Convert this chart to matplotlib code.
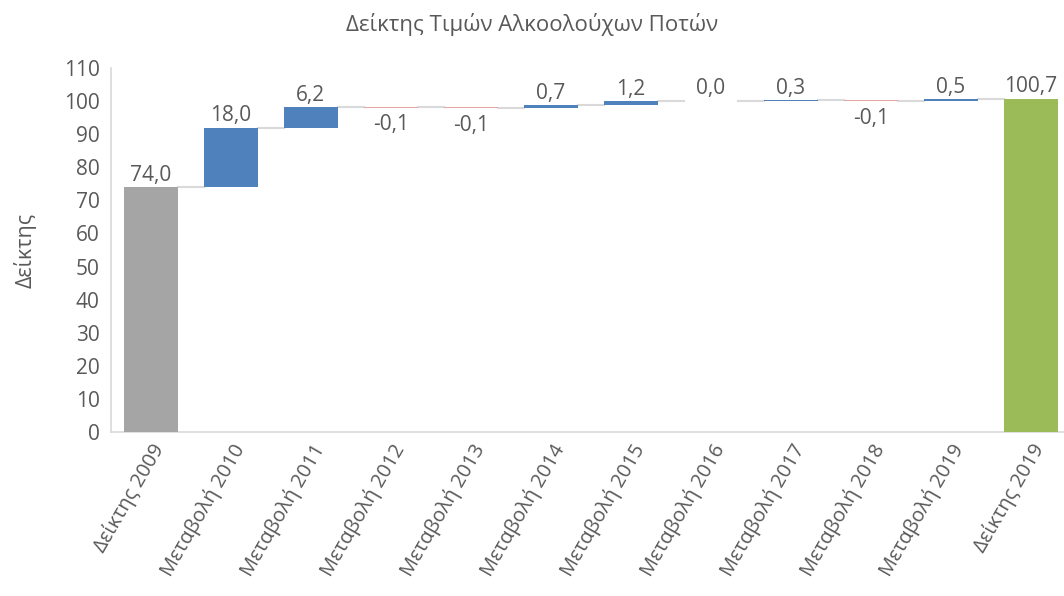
import numpy as np
import matplotlib.pyplot as plt

plt.rcParams['font.family'] = ['Open Sans', 'DejaVu Sans']

title = "Δείκτης Τιμών Αλκοολούχων Ποτών"
ylabel = "Δείκτης"
categories = ["Δείκτης 2009", "Μεταβολή 2010", "Μεταβολή 2011", "Μεταβολή 2012",
              "Μεταβολή 2013", "Μεταβολή 2014", "Μεταβολή 2015", "Μεταβολή 2016",
              "Μεταβολή 2017", "Μεταβολή 2018", "Μεταβολή 2019", "Δείκτης 2019"]
values = [74.0, 18.0, 6.2, -0.1, -0.1, 0.7, 1.2, 0.0, 0.3, -0.1, 0.5, 100.7]
kinds = ["total", "delta", "delta", "delta", "delta", "delta", "delta", "delta",
         "delta", "delta", "delta", "total"]

col_up = "#4F81BD"
col_down = "#E6A3A3"
col_start = "#A5A5A5"
col_end = "#9BBB59"
txt_col = "#595959"

fig = plt.figure(figsize=(10.64, 5.96), dpi=100)
# plot area runs slightly past the right edge of the image, as in the original
ax = fig.add_axes([0.1043, 0.275, 0.902, 0.611])

x = np.arange(len(categories))
width = 0.68
bottoms, heights, colors, tops = [], [], [], []
running = 0.0
for i, (v, k) in enumerate(zip(values, kinds)):
    if k == "total":
        b, h = 0.0, v
        running = v
        c = col_start if i == 0 else col_end
    else:
        b, h = running, v
        running = running + v
        c = col_up if v >= 0 else col_down
    if abs(h) < 0.15:
        h = 0.15 if v >= 0 else -0.15
    bottoms.append(b)
    heights.append(h)
    colors.append(c)
    tops.append(running)

ax.bar(x, heights, bottom=bottoms, width=width, color=colors, zorder=3)

# connectors
for i in range(len(x) - 1):
    ax.plot([x[i] + width / 2, x[i + 1] - width / 2], [tops[i], tops[i]],
            color="#D9D9D9", lw=1.5, zorder=2)

# labels
for i, (v, k) in enumerate(zip(values, kinds)):
    lab = f"{v:.1f}".replace(".", ",")
    if k == "delta" and v < 0:
        ax.annotate(lab, (x[i], bottoms[i] + heights[i]), xytext=(0, -5),
                    textcoords="offset points", ha="center", va="top",
                    fontsize=15, color=txt_col)
    else:
        ax.annotate(lab, (x[i], max(bottoms[i], bottoms[i] + heights[i])), xytext=(0, 1),
                    textcoords="offset points", ha="center", va="bottom",
                    fontsize=15, color=txt_col)

ax.set_xlim(-0.5, len(x) - 0.5)
ax.set_ylim(0, 110)
ax.set_yticks(np.arange(0, 111, 10))
ax.tick_params(axis="y", length=0, labelsize=15, labelcolor=txt_col, pad=8)
ax.tick_params(axis="x", length=0, labelsize=14.5, labelcolor=txt_col, pad=6)
ax.set_xticks(x)
ax.set_xticklabels(categories, rotation=60, ha="right", rotation_mode="anchor")
for s in ["top", "right"]:
    ax.spines[s].set_visible(False)
for s in ["left", "bottom"]:
    ax.spines[s].set_color("#D9D9D9")
    ax.spines[s].set_linewidth(1.2)

ax.set_ylabel(ylabel, fontsize=15.5, color=txt_col, labelpad=20)
fig.suptitle(title, fontsize=16, color=txt_col, y=0.978)

fig.savefig("out.png", dpi=100)
